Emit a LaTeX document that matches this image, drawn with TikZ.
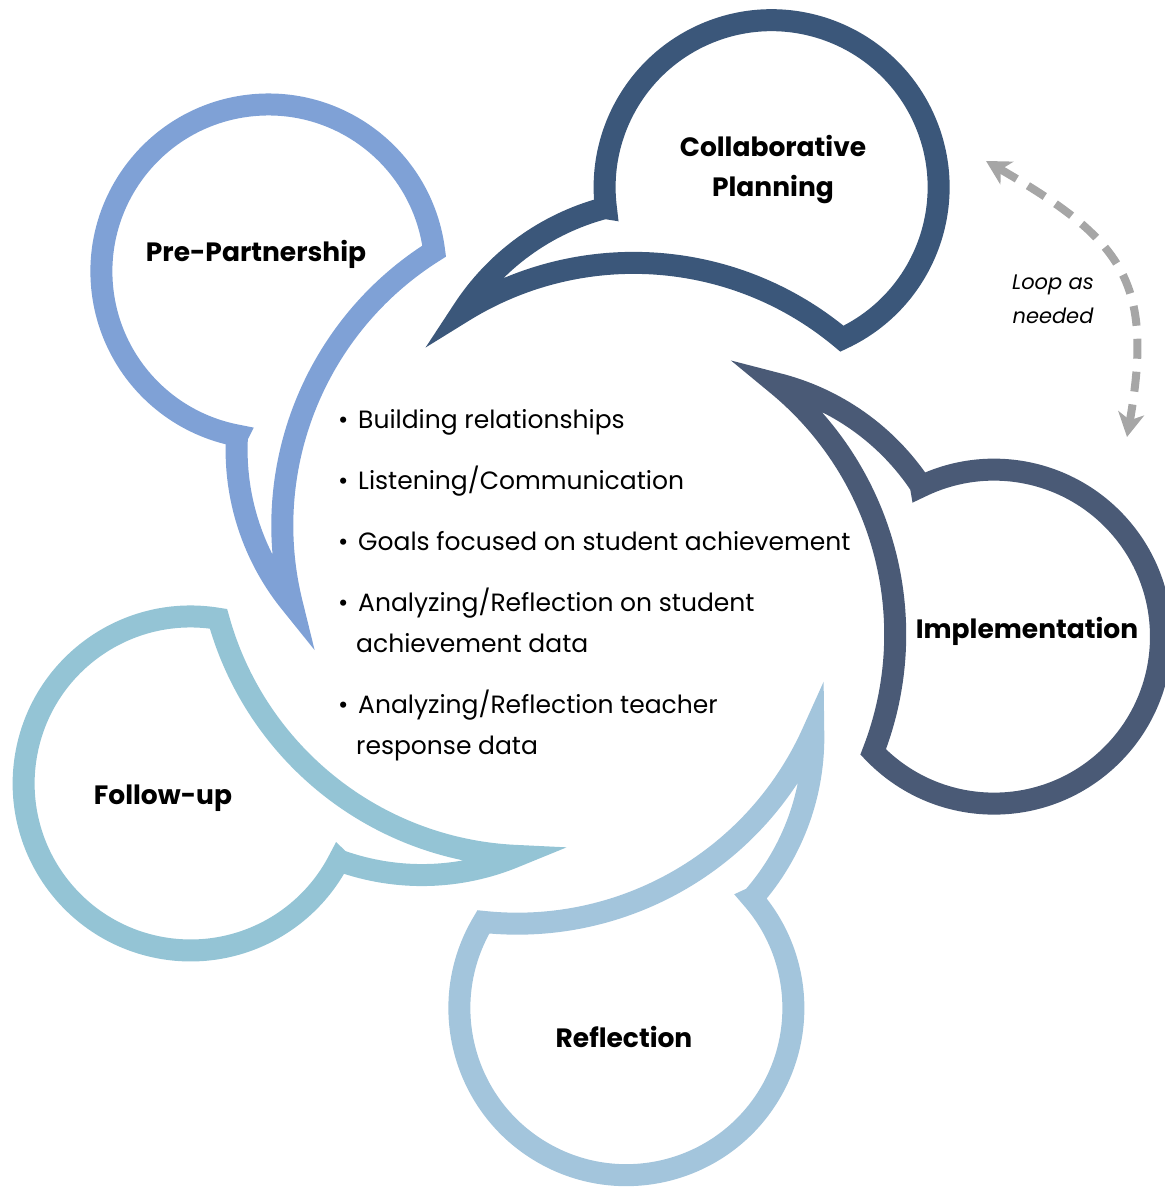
\documentclass[tikz,border=0pt]{standalone}
\usepackage{fontspec}
\setmainfont{Poppins}
\usepackage{xcolor}
\usepackage{tikz}
\usetikzlibrary{arrows.meta}

\definecolor{prepart}{RGB}{127,161,214}
\definecolor{collab}{RGB}{59,87,122}
\definecolor{implem}{RGB}{74,90,118}
\definecolor{reflec}{RGB}{163,197,220}
\definecolor{follow}{RGB}{148,196,213}
\definecolor{loopgray}{RGB}{166,166,166}

\tikzset{
  bubble/.style={line width=22pt, line join=miter, miter limit=25},
  % circle with a curved tail, drawn around its own centre
  callout/.pic={
    \path[bubble, pic actions] (-166,-21)
      arc[start angle=104.7, end angle=147.4, radius=243]
      arc[start angle=122, end angle=50, radius=324]
      arc[start angle=-65.1, end angle=187.2, radius=167] -- cycle;
  },
  title/.style={font=\fontsize{26.5}{40}\selectfont\bfseries, align=center, anchor=base},
  item/.style={font=\fontsize{25}{41}\selectfont, align=left, anchor=base west, inner sep=0pt},
}
\newcommand{\bul}{\makebox[20pt][l]{\textbullet}}

\begin{document}
\begin{tikzpicture}[x=1pt, y=1pt, >={Stealth[length=24pt, width=26pt, inset=7pt]}]
\useasboundingbox (0,0) rectangle (1164,1190);
%==================== Bubbles ==================
\pic[draw=collab]                  at (771,1003) {callout};
\pic[draw=implem, rotate=-71.25]   at (994,554)  {callout};
\pic[draw=reflec, rotate=-146]     at (627,182)  {callout};
\pic[draw=follow, rotate=-214.5]   at (191,406)  {callout};
\pic[draw=prepart, rotate=-287.9]  at (268,918)  {callout};
%==================== Titles ==================
% two-line nodes sit on the baseline of their last line
\node[title] (pre)    at (256,928)  {Pre-Partnership};
\node[title] (collab) at (773,993)  {Collaborative\\Planning};
\node[title] (impl)   at (1027,551) {Implementation};
\node[title] (refl)   at (624,142)  {Reflection};
\node[title] (fol)    at (163,385)  {Follow-up};
%==================== Bullets ==================
\node[item] (b1) at (338,761) {\bul Building relationships};
\node[item] (b2) at (338,700) {\bul Listening/Communication};
\node[item] (b3) at (338,639) {\bul Goals focused on student achievement};
\node[item] (b4) at (338,537) {\bul Analyzing/Reflection on student\\\hspace*{18pt}achievement data};
\node[item] (b5) at (338,435) {\bul Analyzing/Reflection teacher\\\hspace*{18pt}response data};
%==================== Loop ==================
\coordinate (looptop) at (986,1029);
\coordinate (loopbot) at (1127,753);
\draw[<->, loopgray, line width=8pt, dash pattern=on 20pt off 13pt]
  (looptop) to[out=-30, in=80, looseness=1.3] (loopbot);
\node[font=\fontsize{21}{34}\selectfont\itshape, align=center, anchor=base] (loop) at (1053,866) {Loop as\\needed};
\end{tikzpicture}
\end{document}
